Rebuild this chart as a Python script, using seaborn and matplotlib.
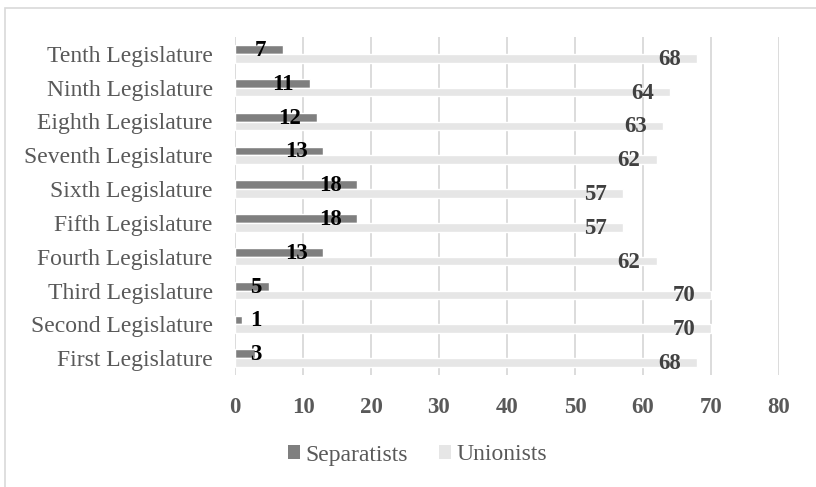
import matplotlib
matplotlib.use("Agg")
import matplotlib.pyplot as plt
from matplotlib.patches import Rectangle, Patch
import seaborn as sns
import pandas as pd

# Seats per legislature
legislatures = ["First Legislature", "Second Legislature", "Third Legislature",
                "Fourth Legislature", "Fifth Legislature", "Sixth Legislature",
                "Seventh Legislature", "Eighth Legislature", "Ninth Legislature",
                "Tenth Legislature"]
separatists = [3, 1, 5, 13, 18, 18, 13, 12, 11, 7]
unionists = [68, 70, 70, 62, 57, 57, 62, 63, 64, 68]
series = ["Separatists", "Unionists"]
x_ticks = [0, 10, 20, 30, 40, 50, 60, 70, 80]

df = pd.DataFrame({
    "Legislature": legislatures * 2,
    "Group": [series[0]] * len(legislatures) + [series[1]] * len(legislatures),
    "Seats": separatists + unionists,
})

sns.set_style("white")
serif = ["Liberation Serif", "DejaVu Serif"]
plt.rcParams["font.family"] = serif

colors = {"Separatists": "#7f7f7f", "Unionists": "#e6e6e6"}
grid_c = "#d9d9d9"
text_c = "#595959"

fig = plt.figure(figsize=(8.16, 4.87), dpi=100)
ax = fig.add_axes([235 / 816, 1 - 375 / 487, 544 / 816, 338 / 487])

sns.barplot(data=df, y="Legislature", x="Seats", hue="Group",
            order=legislatures[::-1], hue_order=series, palette=colors,
            width=0.52, orient="h", saturation=1, ax=ax, legend=False)

ax.set_xlim(0, 80)
ax.set_xticks(x_ticks)
ax.set_xticklabels([str(t) for t in x_ticks], fontsize=16.5,
                   fontweight="bold", color=text_c)
ax.tick_params(axis="x", length=0, pad=16)
ax.tick_params(axis="y", length=0, pad=16, labelsize=17, labelcolor=text_c)
ax.set_xlabel("")
ax.set_ylabel("")
ax.xaxis.grid(True, color=grid_c, linewidth=1.3)
ax.set_axisbelow(True)
for s in ax.spines.values():
    s.set_visible(False)

# Value labels placed just inside the end of each bar
label_colors = ["#000000", "#404040"]
for cont, lc in zip(ax.containers, label_colors):
    for bar in cont:
        w = bar.get_width()
        yc = bar.get_y() + bar.get_height() / 2
        if w < 6:
            ax.annotate(f"{w:.0f}", xy=(0, yc), xytext=(15, -1),
                        textcoords="offset pixels", ha="left", va="center",
                        fontsize=16.5, fontweight="bold", color=lc)
        else:
            ax.annotate(f"{w:.0f}", xy=(w, yc), xytext=(-16, -1),
                        textcoords="offset pixels", ha="right", va="center",
                        fontsize=16.5, fontweight="bold", color=lc)

handles = [Patch(facecolor=colors[s], edgecolor="none", label=s) for s in series]
leg = fig.legend(handles=handles, loc="center",
                 bbox_to_anchor=(417.5 / 816, 1 - 455 / 487),
                 ncol=2, frameon=False, prop={"family": serif, "size": 17},
                 labelcolor=text_c, handlelength=0.5, handleheight=0.5,
                 handletextpad=0.25, columnspacing=1.3)

# Outer chart frame
fig.patches.append(Rectangle((5 / 816, -0.1), 1.2, 1.1 - 8 / 487,
                             transform=fig.transFigure, fill=False,
                             edgecolor=grid_c, linewidth=1.2))

fig.savefig("out.png", dpi=100)
